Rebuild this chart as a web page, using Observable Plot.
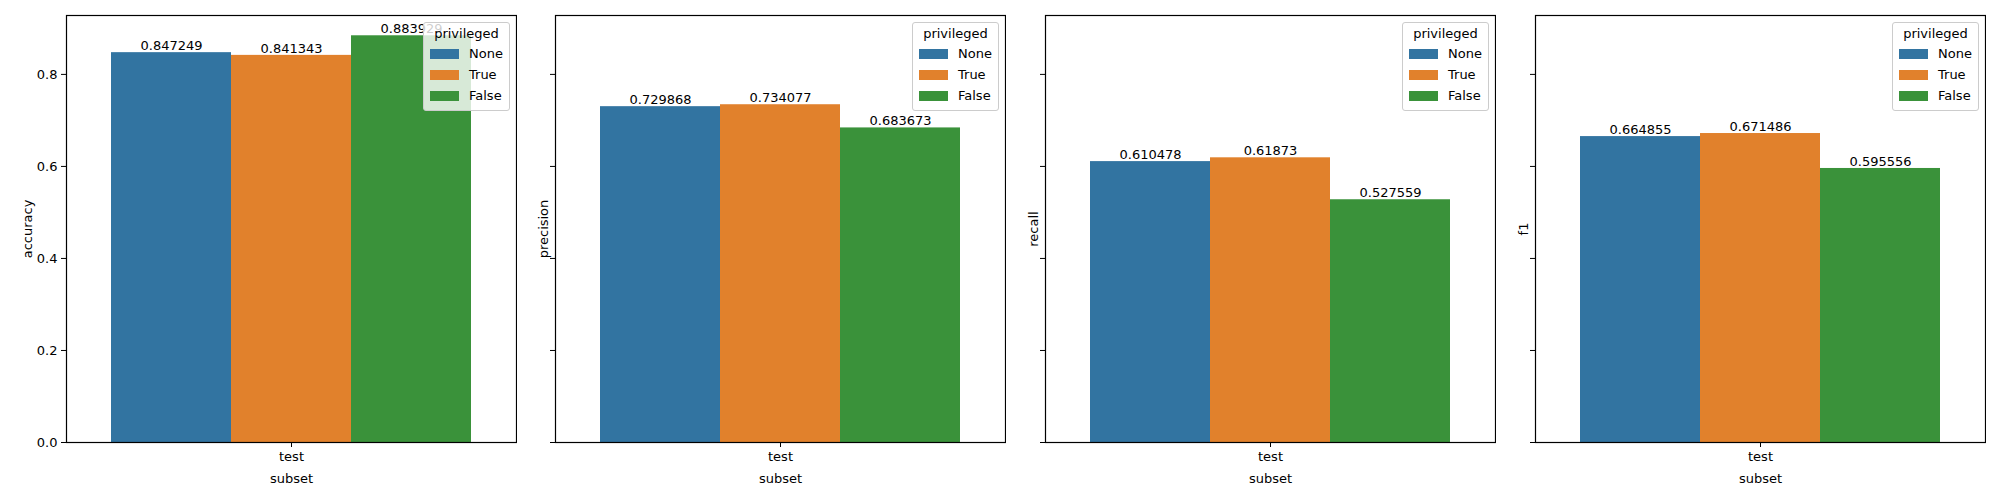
<!DOCTYPE html>
<html><head><meta charset="utf-8">
<script src="https://cdn.jsdelivr.net/npm/d3@7"></script>
<script src="https://cdn.jsdelivr.net/npm/@observablehq/plot@0.6"></script>
<style>
body{margin:0;background:#fff;font-family:"DejaVu Sans",sans-serif;}
#wrap{position:relative;width:2000px;height:500px;}
.p{position:absolute;top:0;}
.leg{position:absolute;background:rgba(255,255,255,0.8);border:1px solid #ccc;border-radius:3px;font-size:13px;padding:3px 6px 4px 6px;color:#000;}
.leg .t{text-align:center;margin-bottom:2px;}
.leg .r{display:flex;align-items:center;height:21px;}
.leg .s{width:29px;height:10px;margin-right:10px;}
</style></head>
<body><div id="wrap"></div>
<script>
const groups = ["None","True","False"];
const colors = ["#3274a1","#e1812c","#3a923a"];
const metrics = ["accuracy","precision","recall","f1"];
const values = {
  accuracy:[0.847249,0.841343,0.883929],
  precision:[0.729868,0.734077,0.683673],
  recall:[0.610478,0.61873,0.527559],
  f1:[0.664855,0.671486,0.595556]
};
const valueLabels = {
  accuracy:["0.847249","0.841343","0.883929"],
  precision:["0.729868","0.734077","0.683673"],
  recall:["0.610478","0.61873","0.527559"],
  f1:["0.664855","0.671486","0.595556"]
};
const frameLefts = [66,555,1045,1535];
const W = 450, ML = 66;
const wrap = document.getElementById("wrap");
metrics.forEach((m,i)=>{
  const data = groups.map((g,j)=>({subset:"test",privileged:g,value:values[m][j],label:valueLabels[m][j]}));
  const svg = Plot.plot({
    width: ML+W+1, height:500, marginLeft:ML, marginRight:1, marginTop:15, marginBottom:58,
    style:{fontFamily:"DejaVu Sans",fontSize:"13px",background:"transparent",color:"#000"},
    x:{domain:groups, paddingInner:0, paddingOuter:0.375, axis:null},
    fx:{domain:["test"], padding:0},
    y:{domain:[0,0.928], ticks:[0,0.2,0.4,0.6,0.8]},
    color:{domain:groups, range:colors},
    marks:[
      Plot.barY(data,{fx:"subset",x:"privileged",y:"value",fill:"privileged",inset:0}),
      Plot.text(data,{fx:"subset",x:"privileged",y:"value",text:"label",dy:-7,fontSize:13,fill:"#000"}),
      Plot.axisY({ticks:[0,0.2,0.4,0.6,0.8], tickSize:5, tickFormat: i===0 ? (d=>d.toFixed(1)) : (()=>""),
        label:m, labelAnchor:"center", labelArrow:false, labelOffset: i===0?44:17, fontSize:13}),
      Plot.axisFx({anchor:"bottom", tickSize:5, label:"subset", labelAnchor:"center", labelArrow:false, labelOffset:40, fontSize:13}),
      Plot.frame({stroke:"#000",strokeWidth:1.2})
    ]
  });
  svg.classList.add("p");
  svg.style.left = (frameLefts[i]-ML)+"px";
  wrap.appendChild(svg);
  const leg = document.createElement("div");
  leg.className="leg";
  leg.style.top="22px";
  leg.style.left=(frameLefts[i]+W-93)+"px";
  leg.innerHTML = '<div class="t">privileged</div>' + groups.map((g,j)=>`<div class="r"><div class="s" style="background:${colors[j]}"></div>${g}</div>`).join("");
  wrap.appendChild(leg);
});
</script></body></html>
